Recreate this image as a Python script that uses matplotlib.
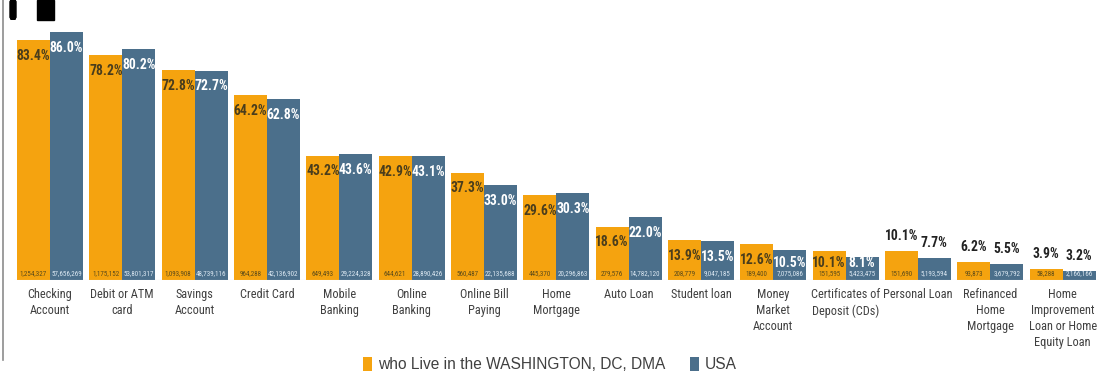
import numpy as np
import matplotlib
matplotlib.use("Agg")
import matplotlib.pyplot as plt
from matplotlib import font_manager
from matplotlib.patches import Rectangle, FancyBboxPatch
from matplotlib.lines import Line2D

categories = ["Checking\nAccount", "Debit or ATM\ncard", "Savings\nAccount", "Credit Card",
              "Mobile\nBanking", "Online\nBanking", "Online Bill\nPaying", "Home\nMortgage",
              "Auto Loan", "Student loan", "Money\nMarket\nAccount", "Certificates of\nDeposit (CDs)",
              "Personal Loan", "Refinanced\nHome\nMortgage", "Home\nImprovement\nLoan or Home\nEquity Loan"]
dc_pct = [83.4, 78.2, 72.8, 64.2, 43.2, 42.9, 37.3, 29.6, 18.6, 13.9, 12.6, 10.1, 10.1, 6.2, 3.9]
usa_pct = [86.0, 80.2, 72.7, 62.8, 43.6, 43.1, 33.0, 30.3, 22.0, 13.5, 10.5, 8.1, 7.7, 5.5, 3.2]
dc_count = ["1,254,327", "1,175,152", "1,093,908", "964,288", "649,493", "644,621", "560,487",
            "445,370", "279,576", "208,779", "189,400", "151,595", "151,690", "93,873", "58,288"]
usa_count = ["57,656,269", "53,801,317", "48,739,116", "42,136,902", "29,224,328", "28,890,426",
             "22,135,688", "20,296,863", "14,782,120", "9,047,185", "7,075,086", "5,423,475",
             "5,193,594", "3,679,792", "2,166,166"]
series_names = ["who Live in the WASHINGTON, DC, DMA", "USA"]

orange = "#F5A30F"
blue = "#4B6F8B"

# look for a narrow face (the original uses Calibri); fall back to condensed DejaVu
installed = {f.name for f in font_manager.fontManager.ttflist}
narrow = None
for cand in ["Liberation Sans Narrow", "Roboto Condensed", "Open Sans Condensed", "DejaVu Sans Condensed"]:
    if cand in installed:
        narrow = cand
        break
if narrow is None:
    narrow = "DejaVu Sans"
    stretch = "condensed"
else:
    stretch = "normal"
font_kw = dict(family=[narrow, "DejaVu Sans"], stretch=stretch)

fig = plt.figure(figsize=(11, 3.73), dpi=100)
ax = fig.add_axes([13.8 / 1100, 0.249, 1085 / 1100, 0.711])

x = np.arange(len(categories))
w = 0.455
b1 = ax.bar(x - w / 2, dc_pct, w, color=orange, label=series_names[0])
b2 = ax.bar(x + w / 2, usa_pct, w, color=blue, label=series_names[1])

ax.set_xlim(-0.5, len(categories) - 0.5)
ax.set_ylim(0, 92)
ax.axhline(0, color="#d9d9d9", lw=0.8)

# the last three groups are too short, their labels sit above the bars
n_inside = 12
for i in range(len(categories)):
    for xv, val, inside_color in [(x[i] - w / 2, dc_pct[i], "#4a3d1c"), (x[i] + w / 2, usa_pct[i], "white")]:
        txt = f"{val:.1f}%"
        if i < n_inside:
            ax.text(xv, max(val - 5.5, 5.9), txt, ha="center", va="center", fontsize=9.8,
                    fontweight="bold", color=inside_color, **font_kw)
        else:
            ax.text(xv, val + 2.8, txt, ha="center", va="bottom", fontsize=9.8,
                    fontweight="bold", color="#222222", **font_kw)
    ax.text(x[i] - w / 2, 1.0, dc_count[i], ha="center", va="bottom", fontsize=5.0,
            color="#5a4a1a", **font_kw)
    ax.text(x[i] + w / 2, 1.0, usa_count[i], ha="center", va="bottom", fontsize=5.0,
            color="#dce8f2", **font_kw)

ax.set_xticks(x)
ax.set_xticklabels(categories, fontsize=8.8, color="#404040", linespacing=1.3, **font_kw)
ax.tick_params(axis="x", length=0, pad=6)
ax.set_yticks([])
for s in ax.spines.values():
    s.set_visible(False)

fig.legend(handles=[b1, b2], labels=series_names, loc="lower center", ncol=2,
           bbox_to_anchor=(0.5, -0.035), frameon=False,
           prop=dict(size=11.2, family=["Liberation Sans", "DejaVu Sans"]),
           handlelength=0.55, handleheight=1.0, handletextpad=0.4, columnspacing=1.6,
           labelcolor="#404040")

# left border and the cut-off title marks at the top left
fig.add_artist(Line2D([3 / 1100, 3 / 1100], [1 - 360 / 373, 1.0], color="#8c8c8c", lw=1.2))
fig.add_artist(FancyBboxPatch((10 / 1100, 1 - 19 / 373), 6 / 1100, 19 / 373,
                              boxstyle="round,pad=0,rounding_size=0.005", color="black"))
fig.add_artist(Rectangle((37 / 1100, 1 - 20 / 373), 17 / 1100, 20 / 373, color="black"))

fig.savefig("out.png", dpi=100)
